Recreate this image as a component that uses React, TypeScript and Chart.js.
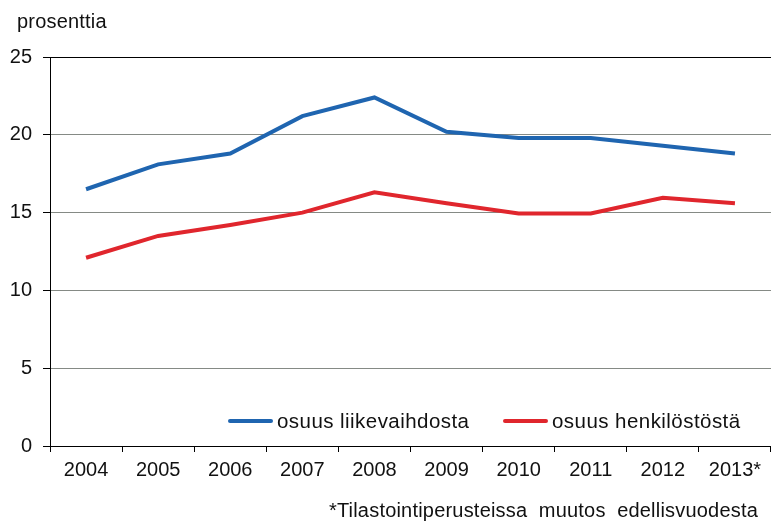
import React, { useEffect, useRef } from "react";
import { Chart, registerables } from "chart.js";

Chart.register(...registerables);

const years = ["2004", "2005", "2006", "2007", "2008", "2009", "2010", "2011", "2012", "2013*"];
const liikevaihto = [16.5, 18.1, 18.8, 21.2, 22.4, 20.2, 19.8, 19.8, 19.3, 18.8];
const henkilosto = [12.1, 13.5, 14.2, 15.0, 16.3, 15.6, 14.95, 14.95, 15.95, 15.6];
const seriesLabels = ["osuus liikevaihdosta", "osuus henkilöstöstä"];
const seriesColors = ["#1f65b0", "#e0262d"];
const yUnit = "prosenttia";
const footnote = "*Tilastointiperusteissa  muutos  edellisvuodesta";

const FONT = "'Liberation Sans', Arial, sans-serif";

const overlayPlugin = {
  id: "overlayText",
  afterDraw(chart: any) {
    const ctx = chart.ctx;
    ctx.save();
    ctx.fillStyle = "#111";
    ctx.textBaseline = "alphabetic";
    ctx.textAlign = "left";
    ctx.font = `20px ${FONT}`;
    try {
      (ctx as any).letterSpacing = "0.2px";
    } catch (e) {}
    ctx.fillText(yUnit, 17, 28);
    ctx.textAlign = "right";
    ctx.fillText(footnote, 758, 517);
    ctx.font = `20.5px ${FONT}`;
    try {
      (ctx as any).letterSpacing = "0.45px";
    } catch (e) {}
    const ly = 421;
    const entries = [
      { x: 228, i: 0 },
      { x: 503, i: 1 },
    ];
    entries.forEach((e) => {
      ctx.strokeStyle = seriesColors[e.i];
      ctx.lineWidth = 4;
      ctx.lineCap = "round";
      ctx.beginPath();
      ctx.moveTo(e.x + 2, ly);
      ctx.lineTo(e.x + 43, ly);
      ctx.stroke();
      ctx.textAlign = "left";
      ctx.textBaseline = "middle";
      ctx.fillStyle = "#111";
      ctx.fillText(seriesLabels[e.i], e.x + 49, ly + 1);
    });
    ctx.restore();
  },
};

export default function App() {
  const ref = useRef<HTMLCanvasElement>(null);
  useEffect(() => {
    if (!ref.current) return;
    const chart = new Chart(ref.current, {
      type: "line",
      data: {
        labels: years,
        datasets: [
          {
            label: seriesLabels[0],
            data: liikevaihto,
            borderColor: seriesColors[0],
            backgroundColor: seriesColors[0],
            borderWidth: 4,
            pointRadius: 0,
            tension: 0,
          },
          {
            label: seriesLabels[1],
            data: henkilosto,
            borderColor: seriesColors[1],
            backgroundColor: seriesColors[1],
            borderWidth: 4,
            pointRadius: 0,
            tension: 0,
          },
        ],
      },
      options: {
        animation: false,
        responsive: true,
        maintainAspectRatio: false,
        layout: { padding: { top: 57, left: 0, right: 0, bottom: 0 } },
        plugins: {
          legend: { display: false },
          tooltip: { enabled: false },
          title: { display: false },
        },
        scales: {
          x: {
            offset: true,
            afterFit: (s: any) => {
              s.height = 76;
            },
            grid: {
              offset: true,
              drawOnChartArea: false,
              drawTicks: true,
              tickLength: 6,
              color: "#000",
              tickColor: "#000",
            },
            border: { display: true, color: "#000", width: 1 },
            ticks: {
              color: "#111",
              font: { family: FONT, size: 20 },
              padding: 6,
              maxRotation: 0,
              autoSkip: false,
            },
          },
          y: {
            min: 0,
            max: 25,
            afterFit: (s: any) => {
              s.width = 50;
            },
            grid: {
              color: (c: any) =>
                c.tick && (c.tick.value === 0 || c.tick.value === 25) ? "#000" : "#858a85",
              tickColor: "#000",
              tickLength: 7,
              lineWidth: 1,
            },
            border: { display: true, color: "#000", width: 1 },
            ticks: {
              stepSize: 5,
              color: "#111",
              font: { family: FONT, size: 20 },
              padding: 11,
            },
          },
        },
      },
      plugins: [overlayPlugin],
    });
    return () => chart.destroy();
  }, []);
  return (
    <div style={{ position: "fixed", left: 0, top: 0, width: 771, height: 522, background: "#fff" }}>
      <canvas ref={ref} />
    </div>
  );
}
